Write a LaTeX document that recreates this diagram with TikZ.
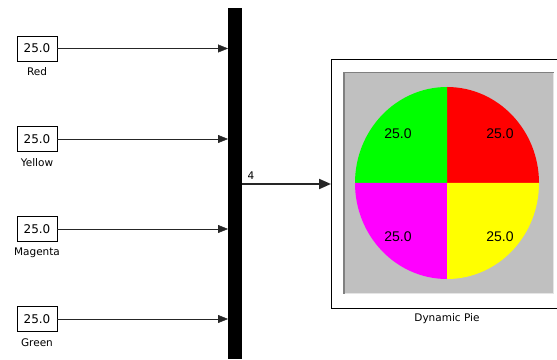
\documentclass[tikz,border=0pt]{standalone}
\usepackage{fontspec}
\setmainfont{DejaVu Sans}
\newfontfamily\piefont{Liberation Sans}
\usepackage{xcolor}
\usetikzlibrary{arrows.meta}
\definecolor{panel}{HTML}{C0C0C0}
\definecolor{paneledge}{HTML}{808080}
\definecolor{piegreen}{HTML}{00FF00}
\definecolor{piemagenta}{HTML}{FF00FF}
\definecolor{pieyellow}{HTML}{FFFF00}

\begin{document}
\begin{tikzpicture}[x=1pt,y=1pt,
        constbox/.style={draw, thick, minimum width=40pt, minimum height=25pt, inner sep=0pt, font=\fontsize{12}{12}\selectfont},
        blocklabel/.style={font=\fontsize{10.5}{11}\selectfont},
        sig/.style={draw=black!85, -{Triangle[length=10pt,width=8pt]}},
        pielabel/.style={font=\piefont\fontsize{14}{14}\selectfont}]
        \useasboundingbox (0,0) rectangle (557,359);
        % constants
        \node[constbox] (red) at (37,310.5) {25.0};
        \node[blocklabel] (redlbl) at (37,287) {Red};
        \node[constbox] (yellow) at (37,220) {25.0};
        \node[blocklabel] (yellowlbl) at (37,196) {Yellow};
        \node[constbox] (magenta) at (37,130) {25.0};
        \node[blocklabel] (magentalbl) at (37,106) {Magenta};
        \node[constbox] (green) at (37,40) {25.0};
        \node[blocklabel] (greenlbl) at (37,16) {Green};
        % mux bar
        \fill[black] (228,0) rectangle (242,351);
        \coordinate (mux) at (228,175);
        \coordinate (muxout) at (242,175);
        \draw[sig] (red) -- (red -| mux);
        \draw[sig] (yellow) -- (yellow -| mux);
        \draw[sig] (magenta) -- (magenta -| mux);
        \draw[sig] (green) -- (green -| mux);
        % pie block
        \draw[thick] (557,300) -- (331,300) -- (331,51) -- (557,51);
        \coordinate (pie) at (331,175);
        \draw[sig, line width=2pt, -{Triangle[length=12pt,width=10pt]}] (muxout) -- (pie);
        \node[blocklabel, anchor=south west] (width) at (244,176) {4};
        \fill[panel] (343,65) rectangle (554,287);
        \draw[paneledge, line width=1.5pt] (343.75,65) -- (343.75,286.25) -- (554,286.25);
        \draw[white!90!black, line width=1pt] (344.5,65.5) -- (553.5,65.5) -- (553.5,285.5);
        % quarters
        \fill[red] (447,176) -- (447,272) arc[start angle=90, end angle=0, x radius=92, y radius=96] -- cycle;
        \fill[piegreen] (447,176) -- (355,176) arc[start angle=180, end angle=90, x radius=92, y radius=96] -- cycle;
        \fill[piemagenta] (447,176) -- (447,80) arc[start angle=270, end angle=180, x radius=92, y radius=96] -- cycle;
        \fill[pieyellow] (447,176) -- (539,176) arc[start angle=0, end angle=-90, x radius=92, y radius=96] -- cycle;
        \node[pielabel] (vred) at (500,225) {25.0};
        \node[pielabel] (vgreen) at (398,225) {25.0};
        \node[pielabel] (vmagenta) at (398,122) {25.0};
        \node[pielabel] (vyellow) at (500,122) {25.0};
        \node[blocklabel] (pielbl) at (447,40) {Dynamic Pie};
\end{tikzpicture}
\end{document}
